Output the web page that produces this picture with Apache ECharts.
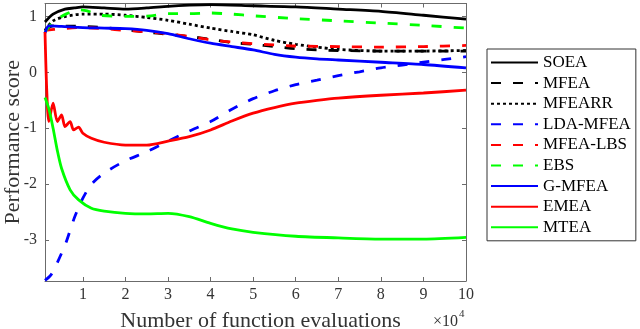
<!DOCTYPE html>
<html>
<head>
<meta charset="utf-8">
<script src="https://cdn.jsdelivr.net/npm/echarts@6.0.0/dist/echarts.min.js"></script>
<style>
  html, body { margin: 0; padding: 0; background: #fff; }
  #main { width: 640px; height: 329px; }
</style>
</head>
<body>
<div id="main"></div>
<script>
// values (x in units of 1e4 evaluations)
const soeaX = [0.11, 0.3, 0.58, 0.8, 1, 1.5, 2, 2.5, 3, 3.5, 4, 5, 6, 7, 8, 9, 10];
const soeaY = [0.9, 1.04, 1.13, 1.15, 1.17, 1.15, 1.13, 1.15, 1.18, 1.2, 1.21, 1.19, 1.17, 1.13, 1.09, 1.02, 0.95];

const mfeaX = [0.11, 0.3, 1, 1.5, 2, 2.5, 3, 3.5, 4, 4.5, 5, 5.5, 6, 6.5, 7, 8, 9, 10];
const mfeaY = [0.75, 0.83, 0.82, 0.8, 0.76, 0.72, 0.68, 0.64, 0.59, 0.53, 0.5, 0.46, 0.42, 0.4, 0.39, 0.38, 0.38, 0.38];

const mfearrX = [0.11, 0.3, 0.6, 1, 1.5, 2, 2.5, 3, 3.5, 4, 4.5, 5, 5.5, 6, 6.5, 7, 7.5, 8, 9, 10];
const mfearrY = [0.75, 0.92, 1.0, 1.04, 1.04, 1.02, 0.98, 0.93, 0.86, 0.79, 0.73, 0.67, 0.57, 0.5, 0.45, 0.41, 0.39, 0.38, 0.38, 0.39];

const ldaX = [0.11, 0.25, 0.4, 0.6, 0.8, 1, 1.2, 1.5, 2, 2.5, 3, 3.5, 4, 4.5, 5, 5.5, 6, 6.5, 7, 7.5, 8, 8.5, 9, 9.5, 10];
const ldaY = [-3.72, -3.62, -3.4, -3.05, -2.6, -2.25, -2.0, -1.8, -1.58, -1.42, -1.23, -1.05, -0.88, -0.66, -0.47, -0.33, -0.22, -0.14, -0.06, 0.01, 0.08, 0.13, 0.18, 0.23, 0.28];

const lbsX = [0.11, 0.5, 1, 1.5, 2, 3, 3.5, 4, 4.5, 5, 5.5, 6, 7, 8, 9, 10];
const lbsY = [0.75, 0.78, 0.8, 0.78, 0.75, 0.69, 0.64, 0.58, 0.54, 0.51, 0.49, 0.47, 0.46, 0.45, 0.46, 0.48];

const ebsX = [0.11, 0.3, 0.6, 0.9, 1.1, 1.4, 2, 2.6, 3, 3.5, 4, 4.5, 5, 6, 7, 8, 9, 10];
const ebsY = [0.72, 0.9, 1.04, 1.12, 1.1, 1.02, 1.0, 1.01, 1.05, 1.05, 1.06, 1.04, 1.01, 0.96, 0.92, 0.88, 0.84, 0.79];

const gmfeaX = [0.11, 0.2, 0.5, 1, 1.5, 2, 2.5, 3, 3.5, 4, 4.5, 5, 5.5, 6, 6.5, 7, 8, 9, 10];
const gmfeaY = [0.7, 0.83, 0.82, 0.8, 0.79, 0.78, 0.75, 0.69, 0.6, 0.52, 0.46, 0.4, 0.32, 0.27, 0.24, 0.22, 0.18, 0.14, 0.08];

const emeaX = [0.11, 0.15, 0.2, 0.3, 0.4, 0.5, 0.58, 0.7, 0.78, 0.9, 1.0, 1.2, 1.5, 2, 2.5, 3, 3.5, 4, 4.5, 5, 5.5, 6, 6.5, 7, 8, 9, 10];
const emeaY = [0.72, -0.3, -0.88, -0.55, -0.88, -0.76, -0.97, -0.88, -1.03, -0.98, -1.09, -1.18, -1.25, -1.3, -1.3, -1.23, -1.15, -1.03, -0.87, -0.73, -0.63, -0.55, -0.5, -0.46, -0.41, -0.37, -0.32];

const mteaX = [0.11, 0.2, 0.3, 0.4, 0.5, 0.7, 0.9, 1.2, 1.5, 2, 2.5, 3, 3.5, 4, 4.5, 5, 6, 7, 8, 9, 10];
const mteaY = [-0.45, -0.65, -1.0, -1.4, -1.72, -2.1, -2.28, -2.43, -2.48, -2.52, -2.53, -2.52, -2.58, -2.7, -2.8, -2.86, -2.93, -2.96, -2.98, -2.98, -2.95];

const xTicks = [1, 2, 3, 4, 5, 6, 7, 8, 9, 10];
const yTicks = [-3, -2, -1, 0, 1];

const chart = echarts.init(document.getElementById('main'), null, { renderer: 'canvas' });

const font = 'Liberation Serif';
const axisGray = '#6b6b6b';
const DASH = [10, 12];
const DOT = [3, 3];

function pairs(xs, ys) {
  return xs.map((x, i) => [x, ys[i]]);
}

function mkSeries(name, xs, ys, color, type) {
  return {
    name: name,
    type: 'line',
    data: pairs(xs, ys),
    showSymbol: false,
    symbol: 'none',
    smooth: 0.25,
    lineStyle: { color: color, width: 2.8, type: type },
    itemStyle: { color: color },
    z: 3
  };
}

function xAx(pos, show) {
  return {
    type: 'value',
    position: pos,
    min: 0.11,
    max: 10,
    splitLine: { show: false },
    axisLine: { show: true, onZero: false, lineStyle: { color: axisGray, width: 1 } },
    axisTick: { show: true, inside: true, length: 4, customValues: xTicks, lineStyle: { color: axisGray } },
    axisLabel: { show: show, customValues: xTicks, margin: 6, fontFamily: font, fontSize: 16, color: '#333' }
  };
}

function yAx(pos, show) {
  return {
    type: 'value',
    position: pos,
    min: -3.73,
    max: 1.23,
    splitLine: { show: false },
    axisLine: { show: true, onZero: false, lineStyle: { color: axisGray, width: 1 } },
    axisTick: { show: true, inside: true, length: 4, customValues: yTicks, lineStyle: { color: axisGray } },
    axisLabel: { show: show, customValues: yTicks, margin: 8, fontFamily: font, fontSize: 16, color: '#333' }
  };
}

const xMain = xAx('bottom', true);
xMain.name = 'Number of function evaluations';
xMain.nameLocation = 'middle';
xMain.nameGap = 29;
xMain.nameMoveOverlap = false;
xMain.nameTextStyle = { fontFamily: font, fontSize: 22, color: '#333', padding: [0, 0, 0, 10] };

const yMain = yAx('left', true);
yMain.name = 'Performance score';
yMain.nameLocation = 'middle';
yMain.nameGap = 21;
yMain.nameMoveOverlap = false;
yMain.nameTextStyle = { fontFamily: font, fontSize: 22, color: '#333' };

const option = {
  animation: false,
  backgroundColor: '#fff',
  grid: { left: 45, top: 3.5, right: 174, bottom: 48, containLabel: false, outerBoundsMode: 'none' },
  xAxis: [xMain, xAx('top', false)],
  yAxis: [yMain, yAx('right', false)],
  legend: {
    orient: 'vertical',
    left: 487,
    top: 49,
    itemWidth: 47,
    itemHeight: 14,
    itemGap: 3.6,
    padding: [5, 5, 5, 3],
    borderColor: '#333',
    borderWidth: 1,
    backgroundColor: '#fff',
    itemStyle: { opacity: 0 },
    textStyle: { fontFamily: font, fontSize: 17, lineHeight: 17, color: '#000' },
    data: ['SOEA', 'MFEA', 'MFEARR', 'LDA-MFEA', 'MFEA-LBS', 'EBS', 'G-MFEA', 'EMEA', 'MTEA']
  },
  graphic: [
    { type: 'text', left: 433, top: 314, style: { text: '×10', font: '16px "Liberation Serif"', fill: '#333' } },
    { type: 'text', left: 459, top: 309, style: { text: '4', font: '11px "Liberation Serif"', fill: '#333' } }
  ],
  series: [
    mkSeries('SOEA', soeaX, soeaY, '#000000', 'solid'),
    mkSeries('MFEA', mfeaX, mfeaY, '#000000', DASH),
    mkSeries('MFEARR', mfearrX, mfearrY, '#000000', DOT),
    mkSeries('LDA-MFEA', ldaX, ldaY, '#0000ff', DASH),
    mkSeries('MFEA-LBS', lbsX, lbsY, '#ff0000', DASH),
    mkSeries('EBS', ebsX, ebsY, '#00ff00', DASH),
    mkSeries('G-MFEA', gmfeaX, gmfeaY, '#0000ff', 'solid'),
    mkSeries('EMEA', emeaX, emeaY, '#ff0000', 'solid'),
    mkSeries('MTEA', mteaX, mteaY, '#00ff00', 'solid')
  ]
};

chart.setOption(option);
</script>
</body>
</html>
